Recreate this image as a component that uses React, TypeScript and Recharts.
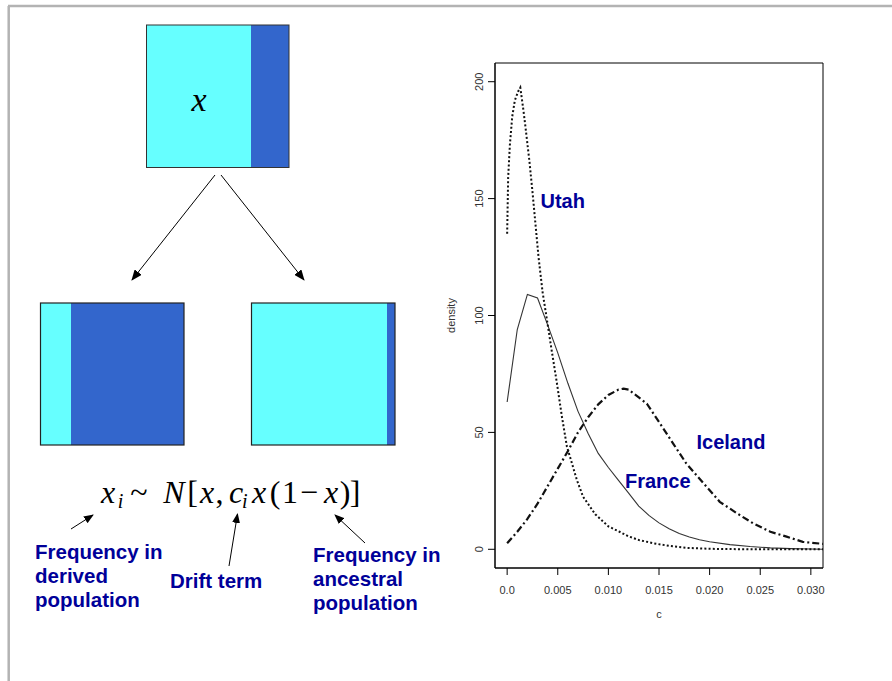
import React from 'react';
import { LineChart, Line, XAxis, YAxis, ReferenceArea } from 'recharts';

// ---- data ----
const xTicks = [0, 0.005, 0.01, 0.015, 0.02, 0.025, 0.03];
const yTicks = [0, 50, 100, 150, 200];

const utahC = [0, 0.0001, 0.00027, 0.0005, 0.00076, 0.0011, 0.0013, 0.0016, 0.0018, 0.0022, 0.0025, 0.0028, 0.0031, 0.0035, 0.0039, 0.0044, 0.0049, 0.0054, 0.0059, 0.0069, 0.0075, 0.0087, 0.01, 0.0111, 0.012, 0.013, 0.0144, 0.0161, 0.0177, 0.02, 0.024, 0.0312];
const utahDensity = [135, 159, 173, 185, 192, 196, 197.5, 188, 181, 166, 153, 139, 125, 110, 99, 85, 71.5, 57, 44, 29.5, 22.5, 15, 9.8, 7.5, 5.5, 4, 2.6, 1.4, 0.6, 0.2, 0, 0];

const franceC = [0, 0.001, 0.002, 0.003, 0.004, 0.005, 0.006, 0.007, 0.008, 0.009, 0.01, 0.011, 0.012, 0.013, 0.014, 0.015, 0.016, 0.017, 0.018, 0.019, 0.02, 0.022, 0.024, 0.026, 0.028, 0.03, 0.0312];
const franceDensity = [63, 94, 109, 107.5, 96, 84, 71, 59, 49.5, 41, 35, 29.5, 24, 18.5, 14.5, 11.3, 8.8, 6.8, 5.3, 4.1, 3.2, 2, 1.2, 0.6, 0.3, 0.1, 0.05];

const icelandC = [0, 0.001, 0.002, 0.003, 0.004, 0.005, 0.006, 0.007, 0.008, 0.009, 0.01, 0.011, 0.0115, 0.012, 0.0125, 0.0138, 0.0151, 0.0164, 0.0177, 0.0194, 0.021, 0.0227, 0.0243, 0.026, 0.0276, 0.0292, 0.0312];
const icelandDensity = [2.6, 7.5, 13, 19.5, 27, 34.5, 42, 50, 56.5, 62, 66, 68.3, 68.7, 68.3, 66.6, 62.3, 53.8, 45.2, 36.7, 28.2, 20.3, 15.4, 11.1, 7.5, 5.4, 3.2, 2.3];

const utahData = utahC.map((c, i) => ({ c, density: utahDensity[i] }));
const franceData = franceC.map((c, i) => ({ c, density: franceDensity[i] }));
const icelandData = icelandC.map((c, i) => ({ c, density: icelandDensity[i] }));

const AXIS_FONT = 'Liberation Sans, Arial, sans-serif';
const BLUE = '#000099';

const fmtX = (v: number) => (v === 0 ? '0.0' : v.toFixed(3));

const XTick = (props: any) => {
  const { x, y, payload } = props;
  return (
    <text x={x} y={y + 17} textAnchor="middle" fontSize={11} fill="#333" fontFamily={AXIS_FONT}>
      {fmtX(payload.value)}
    </text>
  );
};

const YTick = (props: any) => {
  const { x, y, payload } = props;
  return (
    <text x={x} y={y} transform={`rotate(-90 ${x} ${y})`} textAnchor="middle" fontSize={11} fill="#333" fontFamily={AXIS_FONT}>
      {payload.value}
    </text>
  );
};

const densityLabel = (props: any) => {
  const vb = props.viewBox || {};
  const x = vb.x + 9.5;
  const y = vb.y + vb.height / 2;
  return (
    <text x={x} y={y} transform={`rotate(-90 ${x} ${y})`} textAnchor="middle" fontSize={11} fill="#333" fontFamily={AXIS_FONT}>
      density
    </text>
  );
};

const cLabel = (props: any) => {
  const vb = props.viewBox || {};
  return (
    <text x={vb.x + vb.width / 2} y={vb.y + 50} textAnchor="middle" fontSize={11} fill="#333" fontFamily={AXIS_FONT}>
      c
    </text>
  );
};

const SERIF = 'Liberation Serif, Times New Roman, serif';
const BOLD = 'Liberation Sans, Arial, sans-serif';

const Glyph = ({ x, t, italic = true, size = 32, y = 503 }: any) => (
  <text x={x} y={y} textAnchor="middle" fontFamily={SERIF} fontStyle={italic ? 'italic' : 'normal'} fontSize={size} fill="#000">
    {t}
  </text>
);

const BlueText = ({ x, y, t, size = 20.5 }: any) => (
  <text x={x} y={y} fontFamily={BOLD} fontWeight="bold" fontSize={size} fill={BLUE}>
    {t}
  </text>
);

export default function App() {
  return (
    <div style={{ position: 'absolute', left: 0, top: 0, width: 892, height: 681, background: '#fff', overflow: 'hidden' }}>
      <div style={{ position: 'absolute', left: 0, top: 0 }}>
        <LineChart width={892} height={681} margin={{ top: 63, right: 69, bottom: 83, left: 445 }}>
          <XAxis
            type="number"
            dataKey="c"
            domain={[-0.0012, 0.0312]}
            allowDataOverflow
            ticks={xTicks}
            height={30}
            tickSize={7}
            tickMargin={2}
            tick={XTick}
            axisLine={{ stroke: '#000' }}
            tickLine={{ stroke: '#000' }}
            label={cLabel}
          />
          <YAxis
            type="number"
            domain={[-8, 208]}
            allowDataOverflow
            ticks={yTicks}
            width={50}
            tickSize={7}
            tickMargin={5}
            tick={YTick}
            axisLine={{ stroke: '#000' }}
            tickLine={{ stroke: '#000' }}
            label={densityLabel}
          />
          <ReferenceArea x1={-0.0012} x2={0.0312} y1={-8} y2={208} fill="none" stroke="#000" strokeWidth={1} ifOverflow="visible" />
          <Line data={franceData} dataKey="density" type="linear" stroke="#333" strokeWidth={1.1} dot={false} activeDot={false} isAnimationActive={false} />
          <Line data={icelandData} dataKey="density" type="linear" stroke="#111" strokeWidth={2.2} strokeDasharray="7 3 2 3" dot={false} activeDot={false} isAnimationActive={false} />
          <Line data={utahData} dataKey="density" type="linear" stroke="#111" strokeWidth={2} strokeDasharray="2 2.2" dot={false} activeDot={false} isAnimationActive={false} />
        </LineChart>
      </div>
      <svg style={{ position: 'absolute', left: 0, top: 0, pointerEvents: 'none' }} width={892} height={681}>
        <defs>
          <marker id="ahBig" markerWidth="11" markerHeight="9" refX="10" refY="4.5" orient="auto" markerUnits="userSpaceOnUse">
            <path d="M0,0 L11,4.5 L0,9 z" fill="#000" />
          </marker>
          <marker id="ahSmall" markerWidth="10" markerHeight="8" refX="9" refY="4" orient="auto" markerUnits="userSpaceOnUse">
            <path d="M0,0 L10,4 L0,8 z" fill="#000" />
          </marker>
        </defs>
        {/* slide frame */}
        <line x1={8} y1={6} x2={892} y2={6} stroke="#b3b3b3" strokeWidth={2.5} />
        <line x1={8.7} y1={6} x2={8.7} y2={681} stroke="#b3b3b3" strokeWidth={2.5} />

        {/* top box */}
        <rect x={146.5} y={25} width={104.5} height={142.5} fill="#66FFFF" />
        <rect x={251} y={25} width={38} height={142.5} fill="#3366CC" />
        <rect x={146.5} y={25} width={142.5} height={142.5} fill="none" stroke="#333" strokeWidth={1} />
        <text x={199} y={111} textAnchor="middle" fontFamily={SERIF} fontStyle="italic" fontSize={34} fill="#000">x</text>

        {/* arrows */}
        <line x1={215} y1={175} x2={132} y2={280} stroke="#000" strokeWidth={1} markerEnd="url(#ahBig)" />
        <line x1={221} y1={175} x2={304} y2={280} stroke="#000" strokeWidth={1} markerEnd="url(#ahBig)" />

        {/* bottom left box */}
        <rect x={40.5} y={303} width={31} height={142} fill="#66FFFF" />
        <rect x={71} y={303} width={113} height={142} fill="#3366CC" />
        <rect x={40.5} y={303} width={143.5} height={142} fill="none" stroke="#222" strokeWidth={1.2} />

        {/* bottom right box */}
        <rect x={251.5} y={303} width={136} height={142} fill="#66FFFF" />
        <rect x={387} y={303} width={8} height={142} fill="#3366CC" />
        <rect x={251.5} y={303} width={143.5} height={142} fill="none" stroke="#222" strokeWidth={1.2} />

        {/* formula */}
        <Glyph x={108} t="x" />
        <Glyph x={120.5} t="i" size={20} y={508} />
        <Glyph x={139} t="~" italic={false} />
        <Glyph x={174} t="N" />
        <Glyph x={192.5} t="[" italic={false} />
        <Glyph x={207} t="x" />
        <Glyph x={219.5} t="," italic={false} />
        <Glyph x={236} t="c" />
        <Glyph x={244.7} t="i" size={20} y={508} />
        <Glyph x={259} t="x" />
        <Glyph x={275} t="(" italic={false} />
        <Glyph x={290} t="1" italic={false} />
        <Glyph x={309} t="−" italic={false} />
        <Glyph x={331} t="x" />
        <Glyph x={345} t=")" italic={false} />
        <Glyph x={355} t="]" italic={false} />

        {/* small arrows */}
        <line x1={71} y1={529} x2={93} y2={515} stroke="#000" strokeWidth={1} markerEnd="url(#ahSmall)" />
        <line x1={229} y1={566} x2={237.5} y2={514} stroke="#000" strokeWidth={1} markerEnd="url(#ahSmall)" />
        <line x1={365} y1={543} x2={335} y2={515} stroke="#000" strokeWidth={1} markerEnd="url(#ahSmall)" />

        {/* annotations */}
        <BlueText x={35} y={559} t="Frequency in" />
        <BlueText x={35} y={583} t="derived" />
        <BlueText x={35} y={607} t="population" />
        <BlueText x={170} y={588} t="Drift term" />
        <BlueText x={313} y={562} t="Frequency in" />
        <BlueText x={313} y={586} t="ancestral" />
        <BlueText x={313} y={610} t="population" />

        {/* curve labels */}
        <BlueText x={540.5} y={208} t="Utah" size={20} />
        <BlueText x={696.5} y={449} t="Iceland" size={20} />
        <BlueText x={625} y={488} t="France" size={20} />
      </svg>
    </div>
  );
}
